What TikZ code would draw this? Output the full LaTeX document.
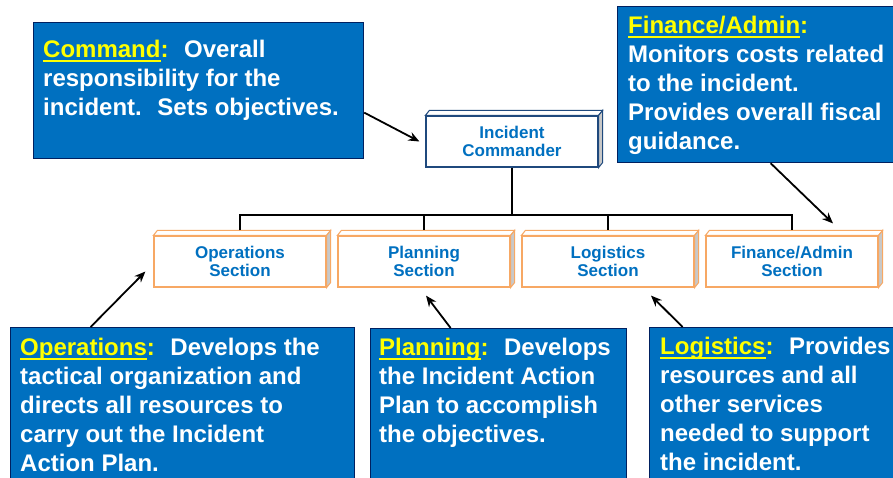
\documentclass[tikz,border=0pt]{standalone}
\usepackage{fontspec}
\setmainfont{Liberation Sans}
\usetikzlibrary{positioning,arrows.meta}

\definecolor{callblue}{RGB}{0,112,192}
\definecolor{callrim}{RGB}{0,32,96}
\definecolor{sectrim}{RGB}{247,168,100}
\definecolor{icrim}{RGB}{31,73,125}
\definecolor{sidegray}{RGB}{200,200,200}
\definecolor{hiyellow}{RGB}{255,255,0}

\newcommand{\hilite}[1]{{\color{hiyellow}\setbox0\hbox{#1}\rlap{\rule[-4.5pt]{\wd0}{2pt}}\box0:}}

\begin{document}
\begin{tikzpicture}[x=1pt,y=-1pt,
    callout/.style={draw=callrim,fill=callblue,line width=1.2pt,inner sep=0,anchor=north west},
    calltext/.style={text=white,align=left,inner sep=0,font=\fontsize{24}{29}\selectfont\bfseries},
    sectbox/.style={draw=sectrim,fill=white,line width=1.2pt,minimum width=172pt,minimum height=51pt,inner sep=0,
                    text=callblue,align=center,font=\fontsize{17}{18}\selectfont\bfseries},
    chief/.style={sectbox,draw=icrim},
    pointer/.style={-{Stealth[length=11pt,width=9pt]},line width=1.8pt},
    bus/.style={line width=2.2pt}]
  \useasboundingbox (0,0) rectangle (893,477);
  \fill[white] (0,0) rectangle (893,477);
  \clip (0,0) rectangle (893,477);

  % org chart
  \node[chief]   at (512,141.5) (ic)   {Incident\\Commander};
  \node[sectbox] at (240,261.5) (ops)  {Operations\\Section};
  \node[sectbox,right=10.8pt of ops]  (plan) {Planning\\Section};
  \node[sectbox,right=10.8pt of plan] (log)  {Logistics\\Section};
  \node[sectbox,right=10.8pt of log]  (fin)  {Finance/Admin\\Section};

  \foreach \n/\c in {ic/icrim,ops/sectrim,plan/sectrim,log/sectrim,fin/sectrim} {
    \draw[line width=1pt,draw=\c,fill=white] (\n.north west) -- ++(4,-5) -- ([shift={(4,-5)}]\n.north east) -- (\n.north east) -- cycle;
    \draw[line width=1pt,draw=\c,fill=sidegray] (\n.north east) -- ([shift={(4,-5)}]\n.north east) -- ([shift={(4,-5)}]\n.south east) -- (\n.south east) -- cycle;
  }

  \coordinate (bus) at (512,215);
  \draw[bus] (ic.south) -- (bus);
  \draw[bus] ([shift={(0,-5)}]ops.north) -- (ops.north |- bus) -- (fin.north |- bus) -- ([shift={(0,-5)}]fin.north);
  \foreach \n in {plan,log}
    \draw[bus] (\n.north |- bus) -- ([shift={(0,-5)}]\n.north);

  % callouts
  \node[callout,minimum width=330pt,minimum height=136pt] at (33,22)  (cmdbox)  {};
  \node[callout,minimum width=300pt,minimum height=156pt] at (617,6)  (finbox)  {};
  \node[callout,minimum width=344pt,minimum height=170pt] at (10,327) (opsbox)  {};
  \node[callout,minimum width=256pt,minimum height=170pt] at (370,328)(planbox) {};
  \node[callout,minimum width=260pt,minimum height=170pt] at (649,327)(logbox)  {};

  \node[calltext,below right=17.5pt and 10pt of cmdbox.north west]  (cmdtext)
       {\hilite{Command}~ Overall\\responsibility for the\\incident.~ Sets objectives.};
  \node[calltext,below right=9.5pt and 11pt of finbox.north west]   (fintext)
       {\hilite{Finance/Admin}\\Monitors costs related\\to the incident.\\Provides overall fiscal\\guidance.};
  \node[calltext,below right=10.5pt and 10pt of opsbox.north west]  (opstext)
       {\hilite{Operations}~ Develops the\\tactical organization and\\directs all resources to\\carry out the Incident\\Action Plan.};
  \node[calltext,below right=9.5pt and 9pt of planbox.north west]   (plantext)
       {\hilite{Planning}~ Develops\\the Incident Action\\Plan to accomplish\\the objectives.};
  \node[calltext,below right=9.5pt and 11pt of logbox.north west]   (logtext)
       {\hilite{Logistics}~ Provides\\resources and all\\other services\\needed to support\\the incident.};

  \path[pointer] ([shift={(0,22)}]cmdbox.east)    edge ([shift={(-6,0)}]ic.west)
                 ([shift={(3,0)}]finbox.south)    edge ([shift={(41,-12)}]fin.north)
                 ([shift={(-92,0)}]opsbox.north)  edge ([shift={(-8,10)}]ops.west)
                 ([shift={(-48,0)}]planbox.north) edge ([shift={(2,8)}]plan.south)
                 ([shift={(-97,0)}]logbox.north)  edge ([shift={(43,8)}]log.south);
\end{tikzpicture}
\end{document}
